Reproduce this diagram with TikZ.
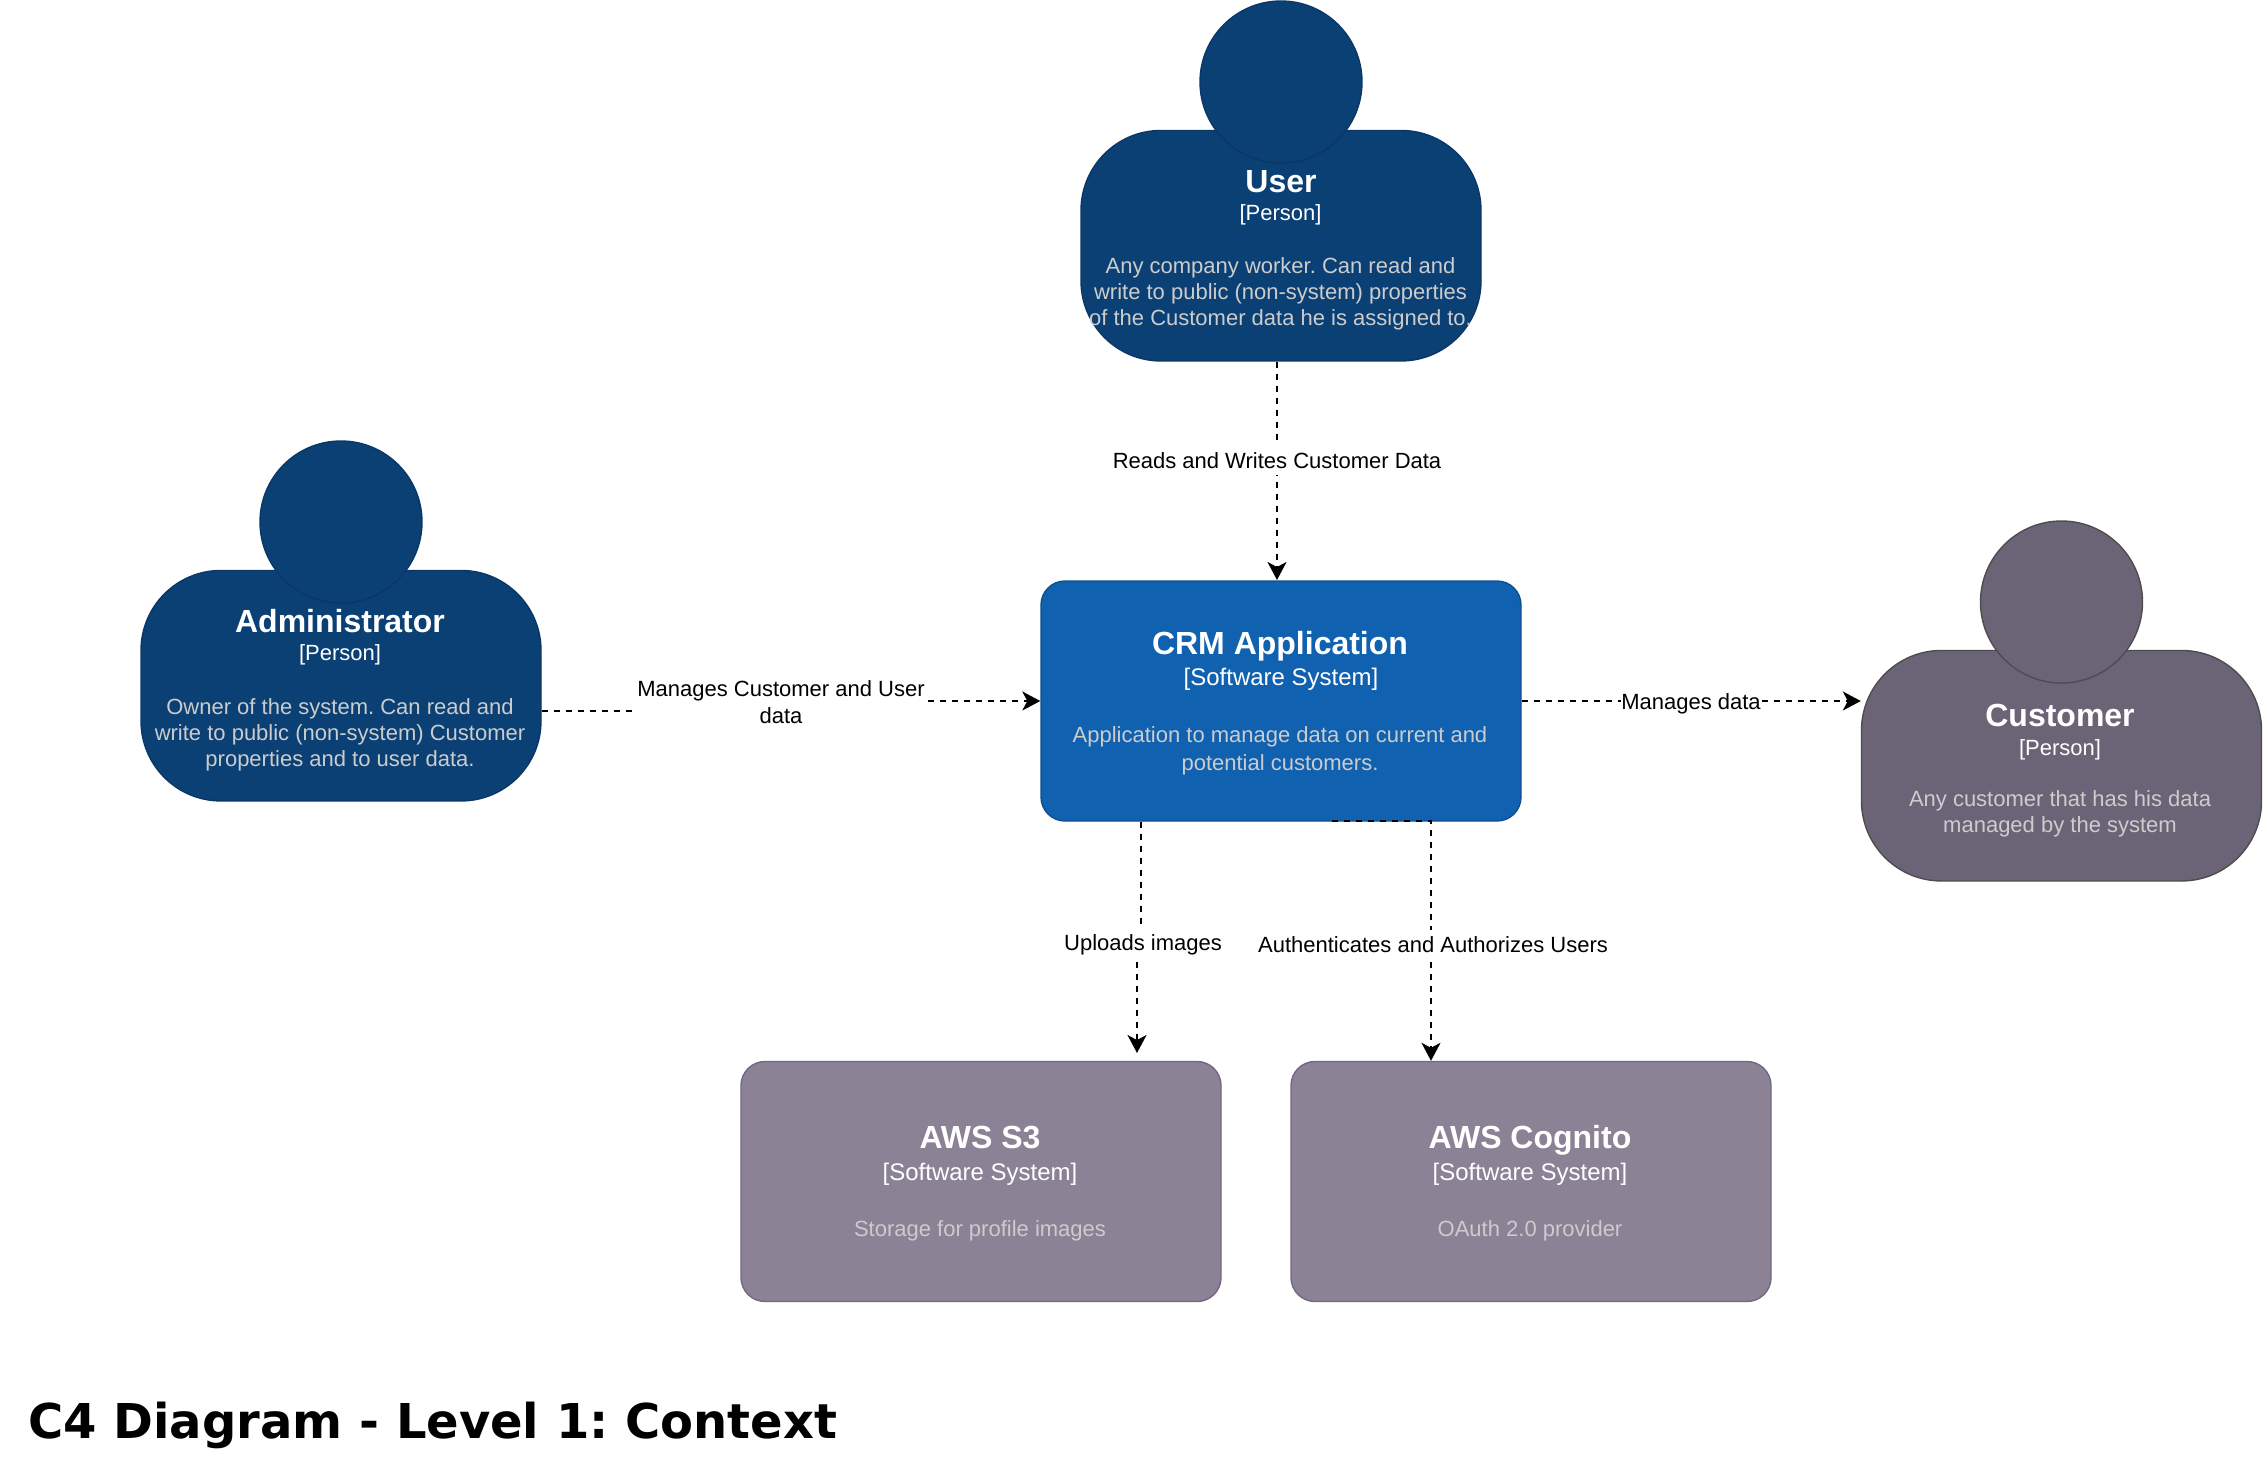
\documentclass[tikz,border=0pt]{standalone}
\usepackage{fontspec}
\setmainfont{Liberation Sans}
\newfontfamily\titlefont{DejaVu Sans}
\usetikzlibrary{arrows.meta}
\frenchspacing
\definecolor{navy}{HTML}{0B4075}
\definecolor{navyline}{HTML}{0A3766}
\definecolor{blue}{HTML}{1061B0}
\definecolor{blueline}{HTML}{0D5091}
\definecolor{greyviolet}{HTML}{8B8296}
\definecolor{greyline}{HTML}{736782}
\definecolor{slate}{HTML}{6B6477}
\definecolor{slateline}{HTML}{4D4D4D}
\definecolor{desc}{HTML}{CCCCCC}
\tikzset{
  x=1pt,y=-1pt,
  bodyshape/.style={draw,line width=1.4pt,rounded corners=80pt,minimum width=400pt,minimum height=230.5pt,inner sep=0pt},
  headshape/.style={draw,line width=1.4pt,circle,minimum size=162pt,inner sep=0pt},
  boxshape/.style={draw,line width=1.4pt,rounded corners=24pt,minimum width=480pt,minimum height=240pt,inner sep=0pt},
  navyp/.style={fill=navy,draw=navyline},
  slatep/.style={fill=slate,draw=slateline},
  namep/.style={anchor=base,text=white,font=\fontsize{32}{36}\selectfont\bfseries,inner sep=0pt},
  typep/.style={anchor=base,text=white,font=\fontsize{22}{26}\selectfont,inner sep=0pt},
  typeb/.style={anchor=base,text=white,font=\fontsize{24}{28}\selectfont,inner sep=0pt},
  descp/.style={anchor=base,text=desc,font=\fontsize{22}{26}\selectfont,inner sep=0pt},
  flow/.style={line width=2pt,dash pattern=on 6.2pt off 5.8pt,-{Stealth[length=18pt,width=19pt,inset=5pt]}},
  lbl/.style={anchor=base,fill=white,inner xsep=0pt,inner ysep=1pt,text=black,font=\fontsize{22}{27}\selectfont,text height=21pt,text depth=6pt},
}
\begin{document}
\begin{tikzpicture}
\useasboundingbox (0,0) rectangle (2264,1462);
% people
\node[bodyshape,navyp] (userbody) at (1281,245.7) {};
\node[headshape,navyp] (userhead) at (1281,82) {};
\node[namep] (username) at (1281,192) {User};
\node[typep] (usertype) at (1280.5,220) {[Person]};
\node[descp] (userd1) at (1280.5,273) {Any company worker. Can read and};
\node[descp] (userd2) at (1280.5,299) {write to public (non-system) properties};
\node[descp] (userd3) at (1280.5,325) {of the Customer data he is assigned to.};

\node[bodyshape,navyp] (adminbody) at (341,685.7) {};
\node[headshape,navyp] (adminhead) at (341,522) {};
\node[namep] (adminname) at (340,632) {Administrator};
\node[typep] (admintype) at (340,660) {[Person]};
\node[descp] (admind1) at (340,714) {Owner of the system. Can read and};
\node[descp] (admind2) at (340,740) {write to public (non-system) Customer};
\node[descp] (admind3) at (340,766) {properties and to user data.};

\node[bodyshape,slatep] (custbody) at (2061.5,765.7) {};
\node[headshape,slatep] (custhead) at (2061.5,602) {};
\node[namep] (custname) at (2060,726) {Customer};
\node[typep] (custtype) at (2060,755) {[Person]};
\node[descp] (custd1) at (2060,806) {Any customer that has his data};
\node[descp] (custd2) at (2060,832) {managed by the system};
% systems
\node[boxshape,fill=blue,draw=blueline] (crm) at (1281,701) {};
\node[namep] (crmname) at (1280,654) {CRM Application};
\node[typeb] (crmtype) at (1281,685) {[Software System]};
\node[descp] (crmd1) at (1280,742) {Application to manage data on current and};
\node[descp] (crmd2) at (1280,770) {potential customers.};

\node[boxshape,fill=greyviolet,draw=greyline] (s3) at (981,1181.5) {};
\node[namep] (s3name) at (980,1148) {AWS S3};
\node[typeb] (s3type) at (980,1180) {[Software System]};
\node[descp] (s3d) at (980,1236) {Storage for profile images};

\node[boxshape,fill=greyviolet,draw=greyline] (cog) at (1531,1181.5) {};
\node[namep] (cogname) at (1530,1148) {AWS Cognito};
\node[typeb] (cogtype) at (1530,1180) {[Software System]};
\node[descp] (cogd) at (1530,1236) {OAuth 2.0 provider};
% connector waypoints
\coordinate (utop) at (1277,580);
\coordinate (abendA) at (781,711);
\coordinate (abendB) at (781,701);
\coordinate (sbendA) at (1141,940);
\coordinate (sbendB) at (1137,940);
\coordinate (stip) at (1137,1053);
\coordinate (cstart) at (1332,821);
\coordinate (ccorner) at (1431,821);
% connectors
\draw[flow] (userbody.south -| utop) -- (utop);
\draw[flow] (adminbody.east |- abendA) -- (abendA) -- (abendB) -- (crm.west |- abendB);
\draw[flow] (crm.east) -- (custbody.west |- crm.east);
\draw[flow] (crm.south -| sbendA) -- (sbendA) -- (sbendB) -- (stip);
\draw[flow] (cstart) -- (ccorner) -- (cog.north -| ccorner);
% labels
\node[lbl] (l1) at (1277,468) {Reads and Writes Customer Data};
\node[lbl,align=center,anchor=center,text height=,text depth=] (l2) at (781,702) {Manages Customer and User\\data};
\node[lbl] (l3) at (1691,709) {Manages data};
\node[lbl] (l4) at (1143,950) {Uploads images};
\node[lbl] (l5) at (1433,952) {Authenticates and Authorizes Users};
% title
\node[anchor=base west,inner sep=0pt,font=\titlefont\fontsize{48}{56}\selectfont\bfseries] (title) at (28,1438) {C4 Diagram - Level 1: Context};
\end{tikzpicture}
\end{document}
